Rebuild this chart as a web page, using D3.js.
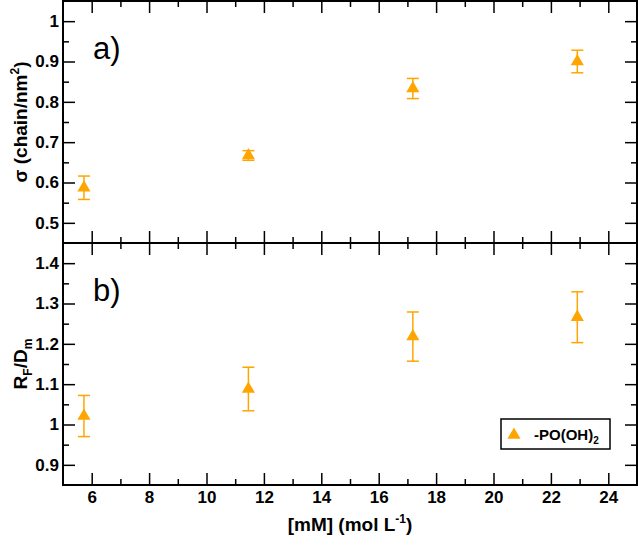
<!DOCTYPE html>
<html>
<head>
<meta charset="utf-8">
<script src="https://cdn.jsdelivr.net/npm/d3@7"></script>
<style>
  html, body { margin: 0; padding: 0; background: #fff; }
  svg { display: block; font-family: "Liberation Sans", Arial, Helvetica, sans-serif; }
</style>
</head>
<body>
<svg id="chart" width="638" height="547"></svg>
<script>
// ---- data ----
const concentrations = [5.73, 11.46, 17.19, 22.92];
const sigmaValues = [0.587, 0.667, 0.833, 0.900];
const sigmaErrors = [0.029, 0.012, 0.025, 0.028];
const rfdmValues = [1.021, 1.088, 1.218, 1.266];
const rfdmErrors = [0.051, 0.054, 0.061, 0.063];
const xMajorTicks = [6, 8, 10, 12, 14, 16, 18, 20, 22, 24];
const xMinorTicks = [7, 9, 11, 13, 15, 17, 19, 21, 23];
const sigmaMajorTicks = [0.5, 0.6, 0.7, 0.8, 0.9, 1.0];
const sigmaMinorTicks = [0.55, 0.65, 0.75, 0.85, 0.95];
const rfdmMajorTicks = [0.9, 1.0, 1.1, 1.2, 1.3, 1.4];
const rfdmMinorTicks = [0.95, 1.05, 1.15, 1.25, 1.35];
const legendLabel = "-PO(OH)";
const color = "#FFA500";

const svg = d3.select("#chart");
const left = 63, right = 637;
const topA = 1, botA = 243, topB = 243, botB = 485;

const x = d3.scaleLinear().domain([5, 25]).range([left, right]);
const yA = d3.scaleLinear().domain([0.45, 1.05]).range([botA, topA]);
const yB = d3.scaleLinear().domain([0.85, 1.45]).range([botB, topB]);

const fmt = d3.format("~g");
const MAJ = 12, MIN = 6;

function styleAxis(g) {
  g.selectAll(".domain").remove();
  g.selectAll(".tick line").attr("stroke", "#000").attr("stroke-width", 1.5);
  g.selectAll(".tick text").attr("font-size", 17).attr("font-weight", "bold").attr("fill", "#000")
    .attr("font-family", "'Liberation Sans', Arial, sans-serif");
}

function panel(y, yTop, yBot, majors, minors, showXLabels) {
  // left axis (inward ticks)
  svg.append("g").attr("transform", `translate(${left},0)`)
    .call(d3.axisLeft(y).tickValues(majors).tickSize(-MAJ).tickPadding(4).tickFormat(fmt)).call(styleAxis);
  svg.append("g").attr("transform", `translate(${left},0)`)
    .call(d3.axisLeft(y).tickValues(minors).tickSize(-MIN).tickFormat("")).call(styleAxis);
  // right axis mirror
  svg.append("g").attr("transform", `translate(${right},0)`)
    .call(d3.axisRight(y).tickValues(majors).tickSize(-MAJ).tickFormat("")).call(styleAxis);
  svg.append("g").attr("transform", `translate(${right},0)`)
    .call(d3.axisRight(y).tickValues(minors).tickSize(-MIN).tickFormat("")).call(styleAxis);
  // bottom axis (ticks up)
  const bMaj = svg.append("g").attr("transform", `translate(0,${yBot})`)
    .call(d3.axisBottom(x).tickValues(xMajorTicks).tickSize(-MAJ).tickPadding(6)
      .tickFormat(showXLabels ? fmt : "")).call(styleAxis);
  svg.append("g").attr("transform", `translate(0,${yBot})`)
    .call(d3.axisBottom(x).tickValues(xMinorTicks).tickSize(-MIN).tickFormat("")).call(styleAxis);
  // top axis (ticks down)
  svg.append("g").attr("transform", `translate(0,${yTop})`)
    .call(d3.axisTop(x).tickValues(xMajorTicks).tickSize(-MAJ).tickFormat("")).call(styleAxis);
  svg.append("g").attr("transform", `translate(0,${yTop})`)
    .call(d3.axisTop(x).tickValues(xMinorTicks).tickSize(-MIN).tickFormat("")).call(styleAxis);
  // frame
  svg.append("rect").attr("x", left).attr("y", yTop).attr("width", right - left).attr("height", yBot - yTop)
    .attr("fill", "none").attr("stroke", "#000").attr("stroke-width", 2);
}

panel(yA, topA, botA, sigmaMajorTicks, sigmaMinorTicks, false);
panel(yB, topB, botB, rfdmMajorTicks, rfdmMinorTicks, true);

function series(y, vals, errs) {
  const g = svg.append("g");
  const cap = 6;
  const d = concentrations.map((c, i) => ({ c, v: vals[i], e: errs[i] }));
  g.selectAll(".eb").data(d).join("line")
    .attr("x1", p => x(p.c)).attr("x2", p => x(p.c))
    .attr("y1", p => y(p.v - p.e)).attr("y2", p => y(p.v + p.e))
    .attr("stroke", color).attr("stroke-width", 1.5);
  g.selectAll(".ct").data(d).join("line")
    .attr("x1", p => x(p.c) - cap).attr("x2", p => x(p.c) + cap)
    .attr("y1", p => y(p.v + p.e)).attr("y2", p => y(p.v + p.e))
    .attr("stroke", color).attr("stroke-width", 1.5);
  g.selectAll(".cb").data(d).join("line")
    .attr("x1", p => x(p.c) - cap).attr("x2", p => x(p.c) + cap)
    .attr("y1", p => y(p.v - p.e)).attr("y2", p => y(p.v - p.e))
    .attr("stroke", color).attr("stroke-width", 1.5);
  g.selectAll(".pt").data(d).join("path")
    .attr("d", d3.symbol().type(d3.symbolTriangle).size(75))
    .attr("transform", p => `translate(${x(p.c)},${y(p.v)})`)
    .attr("fill", color);
}
series(yA, sigmaValues, sigmaErrors);
series(yB, rfdmValues, rfdmErrors);

// panel labels
svg.append("text").attr("x", 93).attr("y", 59).attr("font-size", 31).attr("fill", "#000").text("a)");
svg.append("text").attr("x", 93).attr("y", 301).attr("font-size", 31).attr("fill", "#000").text("b)");

// y titles
const tA = svg.append("text").attr("transform", `translate(27,${(topA + botA) / 2}) rotate(-90)`)
  .attr("text-anchor", "middle").attr("font-size", 19).attr("font-weight", "bold");
tA.append("tspan").text("\u03C3 (chain/nm");
tA.append("tspan").attr("font-size", 12).attr("dy", -8).text("2");
tA.append("tspan").attr("dy", 8).text(")");

const tB = svg.append("text").attr("transform", `translate(27,${(topB + botB) / 2}) rotate(-90)`)
  .attr("text-anchor", "middle").attr("font-size", 19).attr("font-weight", "bold");
tB.append("tspan").text("R");
tB.append("tspan").attr("font-size", 12).attr("dy", 5).text("F");
tB.append("tspan").attr("dy", -5).text("/D");
tB.append("tspan").attr("font-size", 12).attr("dy", 5).text("m");

// x title
const tx = svg.append("text").attr("x", (left + right) / 2).attr("y", 531)
  .attr("text-anchor", "middle").attr("font-size", 19).attr("font-weight", "bold");
tx.append("tspan").text("[mM] (mol L");
tx.append("tspan").attr("font-size", 12).attr("dy", -8).text("-1");
tx.append("tspan").attr("dy", 8).text(")");

// legend
const lg = svg.append("g");
lg.append("rect").attr("x", 501).attr("y", 419).attr("width", 109).attr("height", 30)
  .attr("fill", "#fff").attr("stroke", "#000").attr("stroke-width", 1.5);
lg.append("path").attr("d", d3.symbol().type(d3.symbolTriangle).size(75))
  .attr("transform", "translate(514,435)").attr("fill", color);
const lt = lg.append("text").attr("x", 534).attr("y", 440).attr("font-size", 15).attr("font-weight", "bold");
lt.append("tspan").text(legendLabel);
lt.append("tspan").attr("font-size", 10).attr("dy", 4).text("2");
</script>
</body>
</html>
